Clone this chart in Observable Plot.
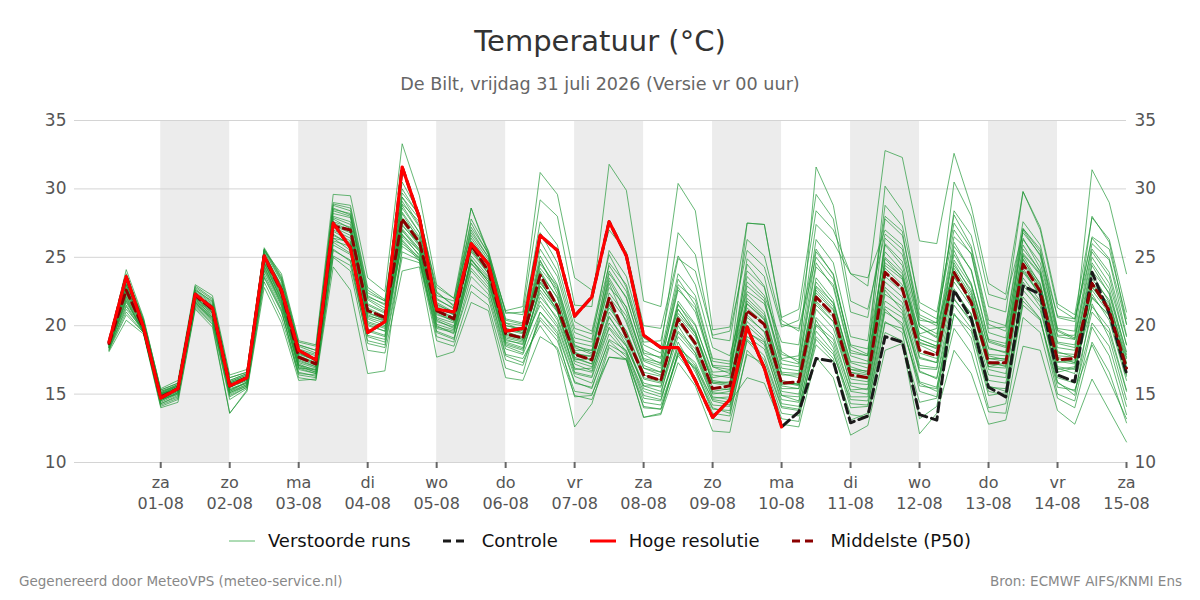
<!DOCTYPE html>
<html>
<head>
<meta charset="utf-8">
<script src="https://cdn.jsdelivr.net/npm/d3@7"></script>
<script src="https://cdn.jsdelivr.net/npm/@observablehq/plot@0.6"></script>
<style>
  body { margin:0; width:1200px; height:600px; position:relative; overflow:hidden; background:#fff; font-family:"DejaVu Sans", sans-serif; }
  #title { position:absolute; top:23px; left:0; width:1200px; text-align:center; font-size:29px; line-height:36px; color:#333; }
  #subtitle { position:absolute; top:73px; left:0; width:1200px; text-align:center; font-size:17.6px; line-height:22px; color:#666; }
  #chart { position:absolute; top:100px; left:0; }
  #legend { position:absolute; top:529px; left:0; width:1200px; display:flex; justify-content:center; align-items:center; font-size:18px; color:#111; line-height:24px; }
  .item { display:flex; align-items:center; margin:0 16px; }
  .item svg { margin-right:13px; }
  .foot { position:absolute; top:572px; font-size:13.5px; color:#888; line-height:18px; }
</style>
</head>
<body>
<div id="title">Temperatuur (°C)</div>
<div id="subtitle">De Bilt, vrijdag 31 juli 2026 (Versie vr 00 uur)</div>
<div id="chart"></div>
<div id="legend"></div>
<div class="foot" style="left:19px">Gegenereerd door MeteoVPS (meteo-service.nl)</div>
<div class="foot" style="right:18px">Bron: ECMWF AIFS/KNMI Ens</div>
<script>
// ---- data (6-hourly, first value 31-07 06:00 UTC) ----
const firstTime = "2026-07-31T06:00:00Z";
const stepHours = 6;

const dayNames = ["za","zo","ma","di","wo","do","vr","za","zo","ma","di","wo","do","vr","za"];
const dayDates = ["01-08","02-08","03-08","04-08","05-08","06-08","07-08","08-08","09-08","10-08","11-08","12-08","13-08","14-08","15-08"];
const tickDays = ["2026-08-01","2026-08-02","2026-08-03","2026-08-04","2026-08-05","2026-08-06","2026-08-07","2026-08-08","2026-08-09","2026-08-10","2026-08-11","2026-08-12","2026-08-13","2026-08-14","2026-08-15"];
const shadedDays = ["2026-08-01","2026-08-03","2026-08-05","2026-08-07","2026-08-09","2026-08-11","2026-08-13"];
const yTicks = [10,15,20,25,30,35];

const hiRes = [18.8,23.6,19.9,14.7,15.4, 22.3,21.3,15.6,16.2, 25.1,22.6,18.2,17.5, 27.5,25.7,19.5,20.3,
  31.6,27.9,21.2,21.0, 26.0,24.5,19.6,19.8, 26.6,25.5,20.7,22.1, 27.6,25.1,19.3,18.4, 18.4,16.0,13.3,14.6, 19.9,16.9,12.6];

const control = [18.8,23.6,19.9,14.7,15.4, 22.3,21.3,15.6,16.2, 25.1,22.6,18.2,17.5, 27.5,25.7,19.5,20.3,
  31.6,27.9,21.2,21.0, 26.0,24.5,19.6,19.8, 26.6,25.5,20.7,22.1, 27.6,25.1,19.3,18.4, 18.4,16.0,13.3,14.6,
  19.9,16.9,12.6,13.7, 17.6,17.4,12.9,13.4, 19.2,18.8,13.5,13.1, 22.6,20.5,15.5,14.8, 22.9,22.3,16.4,15.9, 23.9,20.9,16.5];

const median = [18.7,22.6,19.8,14.8,15.4, 22.2,21.2,15.6,16.2, 25.0,22.5,17.7,17.2, 27.3,27.0,21.1,20.6,
  27.8,26.1,21.1,20.5, 25.9,24.0,19.4,19.1, 23.7,21.4,17.9,17.5, 22.0,19.2,16.4,16.0, 20.5,18.7,15.4,15.6,
  21.1,20.1,15.8,15.9, 22.1,20.8,16.4,16.2, 23.9,22.7,18.2,17.8, 23.9,21.7,17.3,17.3, 24.5,22.5,17.5,17.6, 23.1,21.1,16.9];

const perturbedRuns = [
 [18.8,23.0,20.2,15.0,15.6, 22.5,21.5,15.9,16.4, 25.3,22.9,18.0,17.4, 28.0,27.6,21.5,20.9, 28.6,26.8,21.6,20.9, 26.4,24.6,19.8,19.5, 24.8,22.3,18.4,17.9, 23.1,20.2,16.9,16.4, 21.6,19.6,15.8,15.9, 22.3,21.0,16.5,16.2, 23.5,21.9,17.0,16.6, 25.0,23.8,18.8,18.3, 24.6,22.4,17.8,17.5, 25.1,23.0,18.0,17.9, 23.8,21.7,17.2],
 [18.4,21.8,19.6,14.5,15.1, 21.8,20.8,15.2,15.9, 24.3,21.8,17.1,16.6, 26.2,25.8,20.0,19.6, 26.5,25.2,20.4,19.8, 24.8,23.2,18.7,18.3, 21.8,20.1,16.5,16.2, 19.8,18.1,15.2,14.8, 18.5,17.1,14.2,14.1, 19.2,18.3,14.6,14.4, 20.1,19.0,15.2,15.0, 21.8,20.9,16.7,16.1, 21.9,20.4,16.0,15.8, 22.6,21.1,16.6,16.9, 21.4,19.8,15.3],
 [18.9,24.1,20.6,15.3,15.8, 22.9,22.0,16.2,16.6, 25.6,23.5,18.6,18.2, 29.0,28.8,22.8,21.9, 30.5,28.2,22.4,21.5, 27.2,25.3,20.5,20.2, 27.6,25.9,20.3,19.6, 25.2,22.8,18.2,17.6, 23.4,21.5,17.0,16.8, 24.9,23.6,18.1,17.3, 25.4,23.8,18.2,17.8, 24.2,23.0,18.6,18.0, 25.8,24.1,19.0,18.7, 26.4,24.2,19.2,19.0, 25.0,23.1,18.6],
 [18.2,20.8,19.5,14.2,14.7, 21.4,20.2,14.6,15.4, 23.5,21.0,16.6,16.3, 25.1,24.4,18.9,18.6, 25.4,24.8,19.6,19.1, 23.0,22.0,17.5,17.1, 20.6,19.2,14.8,14.9, 18.6,17.9,14.0,13.9, 17.8,16.2,13.2,13.0, 17.9,17.2,13.6,13.4, 19.0,17.6,13.1,13.6, 20.2,19.8,15.8,15.2, 20.8,19.6,14.9,15.1, 21.5,20.4,15.8,15.2, 20.2,18.5,14.1],
 [18.6,22.4,19.9,14.9,15.5, 22.0,21.2,15.7,16.1, 24.8,22.2,17.5,17.0, 27.4,26.9,21.0,20.4, 27.9,26.4,21.2,20.6, 25.8,24.1,19.6,19.1, 24.5,22.9,18.6,18.0, 23.8,22.1,17.9,17.2, 22.8,21.0,17.0,16.5, 23.6,22.2,18.8,18.6, 27.4,26.1,23.8,22.9, 32.8,32.3,26.2,26.0, 32.6,28.7,23.1,22.3, 29.8,27.2,21.6,20.8, 27.9,26.3,21.0],
 [18.7,23.2,20.0,15.1,15.3, 22.3,21.4,15.8,16.3, 25.1,22.6,18.2,17.8, 28.4,28.0,22.1,21.6, 29.4,27.3,22.0,21.2, 27.8,25.5,20.9,21.0, 29.2,28.0,21.5,21.4, 31.8,29.9,21.8,21.4, 30.4,28.4,19.7,19.9, 27.5,27.4,20.6,21.2, 29.6,27.8,21.0,20.6, 28.0,26.9,20.1,19.4, 26.5,25.3,19.8,19.9, 27.1,25.4,19.7,19.1, 26.0,24.8,19.3],
 [18.5,23.6,20.4,15.2,15.7, 22.6,21.8,16.0,16.5, 25.5,23.8,18.9,18.6, 29.6,29.5,23.5,22.5, 33.3,29.5,23.0,22.0, 28.6,25.2,20.2,19.6, 23.9,21.5,17.6,17.2, 21.5,19.6,16.4,16.0, 20.7,19.2,15.9,15.7, 21.8,20.6,16.0,15.7, 22.8,21.4,16.8,16.5, 24.4,23.4,19.0,18.5, 23.5,21.8,17.0,16.9, 24.6,22.9,17.8,17.7, 23.0,21.6,17.6],
 [18.4,21.2,19.7,14.6,15.0, 21.7,20.5,15.0,15.6, 24.0,21.4,16.9,16.8, 25.9,25.2,19.3,19.0, 26.9,25.6,20.0,19.4, 24.2,22.8,17.9,17.6, 20.0,18.2,12.6,14.3, 18.4,17.5,13.3,13.5, 17.3,15.6,12.3,12.2, 18.2,16.9,13.2,13.0, 19.6,18.1,14.0,14.1, 21.0,20.2,15.2,14.8, 22.4,20.9,15.6,15.2, 23.2,21.4,15.9,14.9, 21.6,19.1,14.6],
 [18.3,22.0,19.5,14.3,14.8, 21.6,20.4,14.9,15.5, 23.8,21.2,16.2,16.0, 24.3,22.6,16.5,16.7, 25.8,24.9,19.2,18.8, 25.1,23.6,19.0,18.6, 22.6,21.0,17.4,17.0, 20.7,18.6,15.8,15.5, 19.6,18.3,15.0,15.2, 20.8,19.5,15.6,15.4, 21.5,20.3,16.1,15.9, 23.2,22.1,17.6,17.3, 23.8,21.6,17.0,17.3, 25.3,23.8,18.7,18.4, 24.0,22.4,18.1],
 [18.8,23.4,20.1,15.0,15.4, 22.4,21.3,15.5,16.0, 25.2,23.0,17.9,17.5, 27.9,27.4,21.6,21.0, 28.9,27.6,22.2,21.8, 26.8,25.0,21.1,21.4, 31.2,29.6,23.5,22.6, 27.0,25.4,20.0,19.8, 25.1,23.0,18.4,17.8, 22.5,21.6,17.5,17.2, 24.6,22.8,17.8,17.4, 26.0,24.7,19.9,19.2, 25.5,23.0,18.8,18.4, 24.9,22.7,17.7,17.3, 22.8,21.2,17.0],
 [18.1,20.4,19.4,14.0,14.4, 21.2,19.9,13.6,15.2, 22.8,20.2,16.0,16.1, 25.0,24.0,18.2,18.0, 24.0,24.3,17.7,18.1, 21.7,21.1,16.2,16.0, 19.2,18.4,14.9,14.6, 17.7,17.6,14.1,13.9, 18.0,17.0,14.6,14.4, 16.2,15.8,12.8,12.6, 17.7,16.2,12.0,12.7, 18.2,18.7,12.1,13.6, 18.2,16.5,12.8,13.1, 18.5,18.2,13.8,12.8, 16.1,13.8,11.5],
 [18.7,22.9,19.8,14.8,15.4, 22.1,21.0,15.6,16.2, 25.0,22.4,17.6,17.1, 27.2,26.6,20.6,20.2, 27.6,25.9,21.0,20.4, 25.6,23.8,19.2,18.9, 23.4,21.0,17.5,17.6, 21.6,19.0,16.2,15.9, 20.3,18.5,15.2,15.4, 21.0,20.1,15.7,15.8, 21.8,20.6,16.3,16.1, 23.6,22.5,18.0,17.6, 23.9,21.5,17.2,17.1, 24.2,22.1,17.3,17.5, 22.9,21.0,16.8],
 [18.5,21.5,19.6,14.6,15.2, 21.9,20.9,15.4,15.8, 24.5,21.9,17.3,16.9, 26.6,26.0,20.3,19.9, 26.0,25.0,19.9,19.6, 24.5,23.4,18.6,18.2, 22.1,20.6,16.9,16.6, 19.9,18.5,15.6,15.2, 19.2,17.8,14.7,14.8, 20.3,19.1,15.2,15.0, 21.2,19.8,15.8,15.7, 22.8,21.7,17.1,16.9, 24.8,22.9,18.4,18.0, 27.1,25.6,19.8,19.6, 31.4,29.0,23.8],
 [18.9,23.8,20.5,15.4,16.0, 23.0,22.2,16.4,16.8, 25.7,23.6,18.8,18.5, 28.8,28.4,22.4,21.8, 30.0,28.0,22.8,22.0, 27.5,25.2,20.4,20.1, 26.2,24.0,19.5,19.0, 25.5,23.6,19.1,18.4, 26.8,25.2,19.1,18.9, 26.3,25.1,20.1,19.8, 25.6,23.7,18.5,17.9, 27.8,26.6,20.8,20.2, 28.1,25.8,20.4,20.0, 27.6,25.9,20.6,20.3, 26.4,24.9,20.1],
 [18.6,22.2,19.7,14.7,15.3, 21.9,20.7,15.3,15.9, 24.6,22.0,17.2,16.7, 26.9,26.2,20.5,20.0, 27.1,25.6,20.6,20.2, 25.4,23.8,19.1,18.8, 21.5,19.9,16.3,15.8, 19.4,18.0,14.7,14.5, 18.8,16.6,13.9,13.8, 19.5,18.8,14.9,14.8, 20.6,19.3,15.3,15.4, 22.3,21.4,16.6,16.2, 22.7,20.8,16.4,16.2, 23.9,22.3,16.9,16.5, 22.3,20.4,16.0],
 [18.7,23.3,20.3,15.1,15.6, 22.4,21.4,15.8,16.3, 25.2,22.8,18.1,17.6, 27.6,27.2,21.2,20.6, 28.2,26.2,21.3,20.8, 26.0,24.4,19.8,19.5, 24.0,22.0,18.1,17.4, 22.4,20.7,17.1,16.6, 21.8,20.1,16.4,16.2, 24.5,22.9,17.9,17.5, 31.6,28.8,21.8,21.2, 26.7,25.6,19.9,19.1, 26.1,24.0,18.9,18.5, 25.6,24.0,18.8,18.6, 24.6,22.7,17.9],
 [18.4,22.1,19.6,14.5,15.1, 21.8,20.6,15.2,15.7, 24.2,21.7,17.0,16.6, 26.4,25.5,19.7,19.3, 26.7,25.1,20.3,19.9, 24.9,23.2,18.8,18.4, 22.9,21.1,16.6,16.3, 20.6,18.9,15.4,15.0, 20.0,18.0,14.8,14.6, 20.0,18.9,14.9,14.5, 20.4,18.4,14.3,14.2, 20.3,19.5,13.2,14.1, 20.9,19.1,14.0,14.3, 21.8,20.5,15.0,14.5, 19.9,17.8,13.5],
 [18.8,22.7,20.0,14.9,15.5, 22.2,21.2,15.7,16.1, 25.3,22.7,17.8,17.3, 28.2,27.9,21.9,21.1, 29.1,27.2,21.7,21.0, 26.6,24.8,20.0,19.7, 25.1,23.0,18.8,18.5, 23.3,21.0,17.5,17.1, 21.2,19.5,16.2,16.4, 22.9,21.8,16.9,16.7, 23.2,21.6,17.3,16.9, 25.9,24.4,19.3,18.8, 25.2,23.1,18.3,18.1, 25.9,23.9,18.4,18.2, 24.4,22.3,17.7],
 [18.3,21.0,19.5,14.1,14.6, 21.3,20.1,13.6,15.3, 23.2,20.6,16.4,16.2, 25.5,24.8,18.7,18.4, 25.0,24.6,18.9,18.5, 22.5,21.5,16.9,16.5, 21.0,19.4,15.8,15.5, 18.9,17.7,14.4,14.2, 17.9,16.9,13.6,13.4, 19.0,17.8,14.1,13.9, 18.6,17.4,13.5,13.3, 19.5,18.9,14.4,14.7, 19.8,18.0,13.7,13.6, 20.6,19.5,14.7,14.0, 18.8,16.6,12.9],
 [18.6,22.6,20.0,15.0,15.5, 22.3,21.2,15.6,16.2, 24.9,22.3,17.7,17.3, 27.5,27.0,20.8,20.3, 27.3,26.0,20.9,20.3, 25.9,24.0,19.5,19.2, 23.1,21.6,17.9,17.8, 21.3,19.6,16.6,16.3, 20.9,19.4,16.0,15.8, 21.6,20.5,16.4,16.4, 22.9,21.7,17.4,17.2, 24.6,23.6,19.4,19.8, 28.4,26.6,21.4,21.0, 29.8,27.0,21.3,20.5, 25.6,23.9,19.2],
 [18.7,23.1,20.2,15.2,15.6, 22.6,21.6,15.9,16.4, 25.4,23.2,18.3,17.9, 28.6,28.1,22.0,21.3, 28.8,26.8,21.5,21.0, 26.2,24.6,20.0,19.8, 24.2,22.6,18.2,18.2, 22.8,21.4,17.4,16.9, 21.5,20.0,16.6,16.7, 23.2,22.0,17.2,17.0, 24.3,23.0,18.0,17.8, 30.2,28.4,21.2,20.5, 27.0,25.2,19.5,19.1, 27.0,25.1,19.3,19.3, 28.0,26.1,20.1],
 [18.5,22.3,19.8,14.8,15.4, 22.0,21.0,15.5,16.0, 24.7,22.1,17.4,17.0, 27.0,26.4,20.7,20.4, 27.0,25.4,20.8,20.4, 25.5,24.0,19.3,19.0, 23.8,22.1,17.7,17.2, 22.1,20.4,16.9,16.6, 21.2,19.4,15.8,15.6, 22.0,20.8,16.6,16.5, 22.2,20.8,16.6,16.4, 26.4,25.2,20.4,20.2, 30.5,28.0,22.3,21.9, 26.8,25.2,20.7,20.5, 26.5,25.6,20.5],
 [18.6,22.5,19.7,14.7,15.2, 22.0,20.9,15.3,15.8, 24.6,21.9,17.1,16.8, 26.4,26.1,20.1,19.6, 27.4,25.8,20.5,20.0, 24.8,23.5,18.9,18.7, 22.4,20.4,16.8,16.9, 20.2,18.5,15.6,15.6, 19.5,18.0,15.1,15.0, 20.6,19.6,15.4,15.4, 21.7,20.3,15.6,15.3, 22.6,21.1,16.9,16.8, 23.2,21.4,16.8,16.5, 24.0,22.4,17.0,16.8, 22.0,20.8,16.4],
 [18.8,23.7,20.3,15.1,15.7, 22.7,21.7,16.0,16.5, 25.5,23.3,18.5,18.0, 28.9,28.6,22.6,21.8, 29.7,28.1,22.5,21.4, 28.6,25.4,21.0,20.8, 26.8,24.6,19.8,19.4, 24.4,22.5,18.6,18.0, 23.8,22.2,17.6,17.4, 24.0,22.8,17.6,17.8, 26.3,24.6,19.2,18.9, 28.8,27.3,21.7,21.0, 27.5,25.6,20.1,19.6, 26.3,24.6,19.6,19.0, 25.4,23.6,18.6],
 [18.4,21.7,19.6,14.4,15.0, 21.7,20.6,15.1,15.7, 24.1,21.6,16.9,16.5, 26.1,25.3,19.6,19.2, 26.3,24.9,19.8,19.5, 24.0,22.6,18.3,17.9, 21.0,19.6,15.9,15.4, 19.0,18.2,14.9,14.6, 18.4,17.3,14.5,14.2, 19.6,18.6,14.3,14.1, 19.2,17.9,14.6,14.5, 21.4,20.6,15.9,15.5, 21.5,19.8,15.2,14.9, 22.1,20.5,15.5,15.3, 18.6,16.0,13.2],
 [18.7,23.0,20.1,15.0,15.6, 22.4,21.3,15.8,16.3, 25.1,22.8,18.0,17.5, 27.8,27.1,21.3,20.7, 28.3,26.5,21.4,20.8, 26.1,24.3,19.7,19.4, 24.7,22.7,18.5,18.2, 23.5,21.3,17.6,17.3, 22.6,21.3,17.1,17.0, 27.5,27.4,20.4,19.6, 25.0,23.4,18.6,18.3, 25.4,24.0,19.0,18.5, 24.4,22.6,17.9,17.8, 25.2,23.7,18.1,17.7, 23.4,21.9,17.3],
 [18.6,22.8,20.0,15.0,15.4, 22.2,21.1,15.6,16.1, 24.9,22.5,17.7,17.2, 27.3,26.8,20.9,20.5, 27.7,26.0,21.0,20.6, 25.7,24.2,19.4,19.0, 23.2,21.4,18.0,17.7, 24.6,23.0,18.8,18.9, 24.9,24.0,19.3,19.6, 25.5,24.3,19.9,20.4, 28.4,27.0,23.8,23.5, 27.0,25.9,20.6,20.0, 24.0,22.0,17.6,17.6, 23.5,21.8,16.8,17.0, 22.1,20.7,16.3],
 [18.2,21.4,19.5,14.3,14.9, 21.5,20.3,14.8,15.5, 23.6,21.1,16.5,16.4, 25.6,24.7,19.2,18.8, 26.2,24.7,19.5,19.0, 23.6,22.3,17.8,17.3, 20.4,18.9,15.2,15.0, 17.7,17.5,13.3,13.6, 18.1,16.8,14.0,13.6, 18.9,17.5,14.0,13.8, 20.0,18.7,14.8,14.8, 21.2,20.0,15.6,15.4, 22.0,20.2,15.5,15.4, 22.9,21.7,16.2,15.8, 21.0,19.5,15.2],
 [18.8,23.5,20.4,15.3,15.8, 22.8,21.9,16.2,16.6, 25.6,23.4,18.6,18.2, 28.5,28.2,22.2,21.5, 29.4,27.8,21.9,21.3, 27.0,25.0,20.2,20.0, 25.6,23.6,19.1,18.8, 24.0,22.0,18.0,17.7, 23.0,21.9,17.4,17.2, 21.6,20.4,15.9,15.6, 22.4,21.1,16.6,16.2, 24.9,23.5,18.7,18.4, 24.2,22.2,17.6,17.4, 24.8,23.1,17.6,17.3, 23.2,21.4,16.9],
 [18.5,21.9,19.5,14.6,15.1, 21.6,20.5,15.1,15.6, 24.4,21.5,16.8,16.5, 26.7,25.9,20.2,19.8, 26.6,25.5,20.1,19.7, 24.6,23.0,18.5,18.0, 22.9,21.2,17.2,16.7, 21.0,19.3,16.1,15.8, 20.5,18.8,15.5,15.3, 21.3,20.2,15.8,15.7, 22.6,21.2,16.8,16.7, 23.9,22.8,17.7,17.3, 23.6,21.7,17.4,17.0, 24.5,22.6,17.4,17.2, 22.6,20.9,16.7]
];

// ---- build tables ----
const t0 = new Date(firstTime).getTime();
const timeAt = i => new Date(t0 + i * stepHours * 3600e3);
const toRows = arr => arr.map((v, i) => ({t: timeAt(i), v}));
const memberRows = perturbedRuns.flatMap((run, m) => run.map((v, i) => ({t: timeAt(i), v, m})));
const dayMs = 864e5;
const bands = shadedDays.map(d => ({x1: new Date(d + "T00:00:00Z"), x2: new Date(new Date(d + "T00:00:00Z").getTime() + dayMs)}));
const ticks = tickDays.map(d => new Date(d + "T00:00:00Z"));
const labelOf = new Map(ticks.map((d, i) => [d.getTime(), dayNames[i] + "\n" + dayDates[i]]));

const chart = Plot.plot({
  width: 1200, height: 420,
  marginTop: 20, marginBottom: 58, marginLeft: 74, marginRight: 74,
  style: {fontFamily: "DejaVu Sans, sans-serif", fontSize: "16px", color: "#555", background: "white", overflow: "visible"},
  x: {type: "utc", domain: [new Date("2026-07-30T18:00:00Z"), new Date("2026-08-15T00:00:00Z")]},
  y: {domain: [10, 35]},
  marks: [
    Plot.rect(bands, {x1: "x1", x2: "x2", y1: 10, y2: 35, fill: "#ececec"}),
    Plot.gridY(yTicks, {stroke: "#d4d4d4", strokeOpacity: 1}),
    Plot.axisY(yTicks, {anchor: "left", tickSize: 0, tickPadding: 8, fontSize: 17, label: null, color: "#555"}),
    Plot.axisY(yTicks, {anchor: "right", tickSize: 0, tickPadding: 8, fontSize: 17, label: null, color: "#555"}),
    Plot.axisX(ticks, {tickSize: 6, tickPadding: 5, fontSize: 16, label: null, stroke: "#666", strokeWidth: 2, fill: "#555", lineHeight: 1.3,
      tickFormat: d => labelOf.get(d.getTime())}),
    Plot.line(memberRows, {x: "t", y: "v", z: "m", stroke: "#1f9635", strokeWidth: 1, strokeOpacity: 0.68}),
    Plot.line(toRows(control), {x: "t", y: "v", stroke: "#1a1a1a", strokeWidth: 3, strokeDasharray: "9,5"}),
    Plot.line(toRows(median), {x: "t", y: "v", stroke: "#8b0000", strokeWidth: 3, strokeDasharray: "9,5"}),
    Plot.line(toRows(hiRes), {x: "t", y: "v", stroke: "#ff0000", strokeWidth: 3.2})
  ]
});
document.getElementById("chart").appendChild(chart);

// ---- legend ----
const legendItems = [
  {label: "Verstoorde runs", stroke: "#5cb86a", width: 1, dash: null},
  {label: "Controle", stroke: "#1a1a1a", width: 3, dash: "8,5"},
  {label: "Hoge resolutie", stroke: "#ff0000", width: 3, dash: null},
  {label: "Middelste (P50)", stroke: "#8b0000", width: 3, dash: "8,5"}
];
const legend = document.getElementById("legend");
for (const it of legendItems) {
  const div = document.createElement("div");
  div.className = "item";
  div.innerHTML = `<svg width="26" height="10"><line x1="0" y1="5" x2="26" y2="5" stroke="${it.stroke}" stroke-width="${it.width}" ${it.dash ? `stroke-dasharray="${it.dash}"` : ""}/></svg><span>${it.label}</span>`;
  legend.appendChild(div);
}
</script>
</body>
</html>
